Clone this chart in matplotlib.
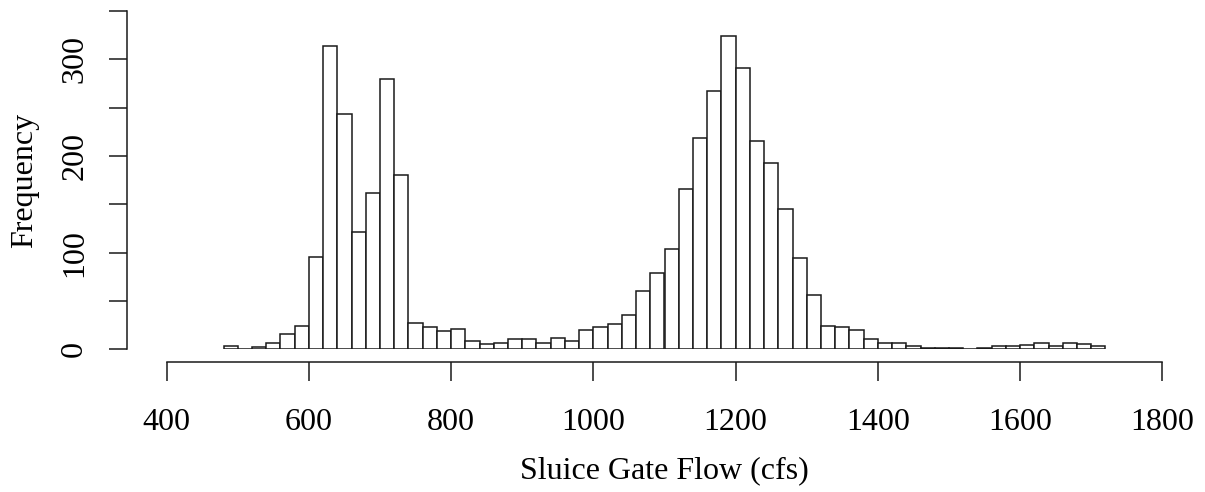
import numpy as np
import matplotlib
matplotlib.use("Agg")
from matplotlib import pyplot as plt

# histogram of sluice gate flow, 20 cfs bins from 480 to 1720
bin_start = 480
bin_width = 20
counts = [3, 0, 2, 7, 16, 24, 96, 314, 243, 121,
          162, 280, 180, 27, 23, 19, 21, 9, 5, 7,
          11, 11, 7, 12, 9, 20, 23, 26, 35, 60,
          79, 104, 166, 219, 267, 324, 291, 215, 193, 145,
          94, 56, 24, 23, 20, 11, 7, 7, 3, 1,
          1, 1, 0, 1, 3, 3, 4, 7, 3, 7,
          5, 3]
xticks = [400, 600, 800, 1000, 1200, 1400, 1600, 1800]
yticks = [0, 50, 100, 150, 200, 250, 300, 350]
ytick_labels = ["0", "", "100", "", "200", "", "300", ""]

edges = bin_start + bin_width * np.arange(len(counts))

plt.rcParams["font.family"] = "Liberation Serif"

W, H = 1205, 492
fig = plt.figure(figsize=(W / 100, H / 100), dpi=100)
# plot region in pixels
x0, x1 = 166.7, 1162.3
y0, y1 = 349.3, 11.0
ax = fig.add_axes([x0 / W, 1 - y0 / H, (x1 - x0) / W, (y0 - y1) / H])

ax.bar(edges, counts, width=bin_width, align="edge",
       facecolor="white", edgecolor="#1a1a1a", linewidth=1.1)

ax.set_xlim(400, 1800)
ax.set_ylim(0, 350)

for s in ["top", "right"]:
    ax.spines[s].set_visible(False)
ax.spines["left"].set_position(("outward", 40 * 0.72))
ax.spines["bottom"].set_position(("outward", 12.7 * 0.72))
ax.spines["left"].set_bounds(0, 350)
ax.spines["bottom"].set_bounds(400, 1800)
for s in ["left", "bottom"]:
    ax.spines[s].set_linewidth(1.1)
    ax.spines[s].set_color("#1a1a1a")

ax.set_xticks(xticks)
ax.set_xticklabels([str(t) for t in xticks])
ax.set_yticks(yticks)
ax.set_yticklabels(ytick_labels, rotation=90, va="center")
ax.tick_params(axis="x", length=14, width=1.1, color="#1a1a1a", pad=19, labelsize=23)
ax.tick_params(axis="y", length=13, width=1.1, color="#1a1a1a", pad=14, labelsize=23)

ax.set_xlabel("Sluice Gate Flow (cfs)", fontsize=23, labelpad=14)
ax.set_ylabel("Frequency", fontsize=23, labelpad=15)

fig.savefig("out.png", dpi=100)
